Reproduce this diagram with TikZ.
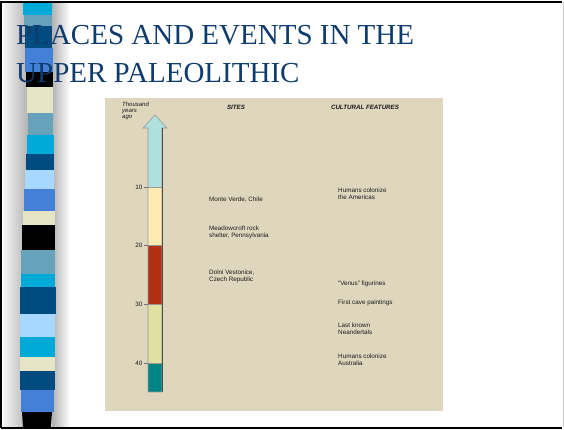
\documentclass[tikz,border=0pt]{standalone}
\usepackage{fontspec}
\setmainfont{Liberation Serif}
\newfontfamily\chartfont{Liberation Sans}
\definecolor{titleblue}{HTML}{0F3C6E}
\definecolor{panelbeige}{HTML}{DED6BD}
\definecolor{bandcyan}{HTML}{00AAD8}
\definecolor{bandgrey}{HTML}{66A3BB}
\definecolor{banddark}{HTML}{004B80}
\definecolor{bandlight}{HTML}{A8D8FF}
\definecolor{bandmid}{HTML}{4580D8}
\definecolor{bandbeige}{HTML}{E5E5C6}
\definecolor{ageA}{HTML}{AEE0DE}
\definecolor{ageB}{HTML}{FDEBB2}
\definecolor{ageC}{HTML}{B03015}
\definecolor{ageD}{HTML}{E0E0A0}
\definecolor{ageE}{HTML}{008484}
\tikzset{
  chart/.style = {font = \chartfont\fontsize{6.3}{7}\selectfont, text = black!90, inner sep = 0pt, align = left},
  head/.style = {font = \chartfont\bfseries\itshape\fontsize{6.2}{6.2}\selectfont, text = black!90, inner sep = 0pt, align = left},
  agebox/.style = {draw = gray!80, line width = 0.6pt},
  ticklabel/.style = {font = \chartfont\fontsize{6.3}{7}\selectfont, text = black!90, inner sep = 1.5pt, anchor = east},
  tickline/.style = {draw = gray!90!black, line width = 0.5pt}
}
\begin{document}
\begin{tikzpicture} [x = 1pt, y = -1pt]
\useasboundingbox (0, 0) rectangle (564, 429);
% slide frame and shadow of the strip
\fill[white] (0, 0) rectangle (564, 429);
\shade[left color = gray!8, right color = gray!60] (3, 3) rectangle (28, 427);
\shade[left color = gray!60, right color = white] (52, 3) rectangle (70, 427);
% coloured strip
\fill[bandcyan] (23, 3) rectangle (52, 15);
\fill[bandgrey] (24, 15) rectangle (52, 26);
\fill[banddark] (25, 26) rectangle (52, 48);
\fill[bandmid] (25, 48) rectangle (53, 72);
\fill[black] (26, 72) rectangle (53, 87);
\fill[bandbeige] (27, 87) rectangle (53, 113);
\fill[bandgrey] (28, 113) rectangle (53, 135);
\fill[bandcyan] (27, 135) rectangle (54, 154);
\fill[banddark] (26, 154) rectangle (54, 170);
\fill[bandlight] (25, 170) rectangle (54, 189);
\fill[bandmid] (24, 189) rectangle (55, 211);
\fill[bandbeige] (23, 211) rectangle (55, 225);
\fill[black] (22, 225) rectangle (55, 250);
\fill[bandgrey] (21, 250) rectangle (55, 274);
\fill[bandcyan] (21, 274) rectangle (55, 287);
\fill[banddark] (20, 287) rectangle (56, 314);
\fill[bandlight] (20, 314) rectangle (55, 337);
\fill[bandcyan] (20, 337) rectangle (55, 357);
\fill[bandbeige] (20, 357) rectangle (55, 371);
\fill[banddark] (20, 371) rectangle (55, 390);
\fill[bandmid] (21, 390) rectangle (54, 412);
\fill[black] (22, 412) -- (52, 412) -- (51, 427) -- (23, 427) -- cycle;
\draw[black, line width = 2pt] (1, 427.5) -- (1, 2) -- (562, 2);
\draw[black, line width = 2pt] (1, 427.5) -- (562, 427.5);
\draw[gray!40, line width = 1pt] (563.5, 2) -- (563.5, 427);
% title
\node[anchor = base west, inner sep = 0pt, text = titleblue, font = \fontsize{29}{35}\selectfont] (title1) at (16, 44) {PLACES AND EVENTS IN THE};
\node[anchor = base west, inner sep = 0pt, text = titleblue, font = \fontsize{29}{35}\selectfont] (title2) at (16, 82) {UPPER PALEOLITHIC};
% chart panel
\fill[panelbeige] (105, 98) rectangle (443, 411);
\node[head, anchor = west, font = \chartfont\itshape\fontsize{6}{6}\selectfont] (thousand) at (122, 111) {Thousand\\years\\ago};
\node[head] (sites) at (236, 107) {SITES};
\node[head] (features) at (365, 107) {CULTURAL FEATURES};
% time arrow
\fill[ageA] (148, 187) -- (148, 128) -- (143, 128) -- (155, 115) -- (167, 128) -- (162, 128) -- (162, 187) -- cycle;
\fill[ageB] (148, 187) rectangle (162, 245);
\fill[ageC] (148, 245) rectangle (162, 304);
\fill[ageD] (148, 304) rectangle (162, 363);
\fill[ageE] (148, 363) rectangle (162, 392);
\draw[agebox] (148, 392) -- (148, 128) -- (143, 128) -- (155, 115) -- (167, 128) -- (162, 128) -- (162, 392) -- cycle;
\draw[agebox] (148, 187) -- (162, 187);
\draw[agebox] (148, 245) -- (162, 245);
\draw[agebox] (148, 304) -- (162, 304);
\draw[agebox] (148, 363) -- (162, 363);
\draw[gray!60!black, line width = 1pt] (162, 128) -- (162, 392);
% ticks
\coordinate (s10) at (148, 187);
\coordinate (s20) at (148, 245);
\coordinate (s30) at (148, 304);
\coordinate (s40) at (148, 363);
\node[ticklabel] (l10) at (144, 187) {10};
\node[ticklabel] (l20) at (144, 245) {20};
\node[ticklabel] (l30) at (144, 304) {30};
\node[ticklabel] (l40) at (144, 363) {40};
\draw[tickline] (l10.east) -- (s10);
\draw[tickline] (l20.east) -- (s20);
\draw[tickline] (l30.east) -- (s30);
\draw[tickline] (l40.east) -- (s40);
% sites
\node[chart, anchor = west] (monte) at (209, 200) {Monte Verde, Chile};
\node[chart, anchor = west] (meadow) at (209, 232) {Meadowcroft rock\\shelter, Pennsylvania};
\node[chart, anchor = west] (dolni) at (209, 276.5) {Dolni Vestonice,\\Czech Republic};
% cultural features
\node[chart, anchor = west] (americas) at (338, 193.5) {Humans colonize\\the Americas};
\node[chart, anchor = west] (venus) at (338, 284) {“Venus” figurines};
\node[chart, anchor = west] (cave) at (338, 303) {First cave paintings};
\node[chart, anchor = west] (neander) at (338, 328.5) {Last known\\Neandertals};
\node[chart, anchor = west] (australia) at (338, 360) {Humans colonize\\Australia};
\end{tikzpicture}
\end{document}
